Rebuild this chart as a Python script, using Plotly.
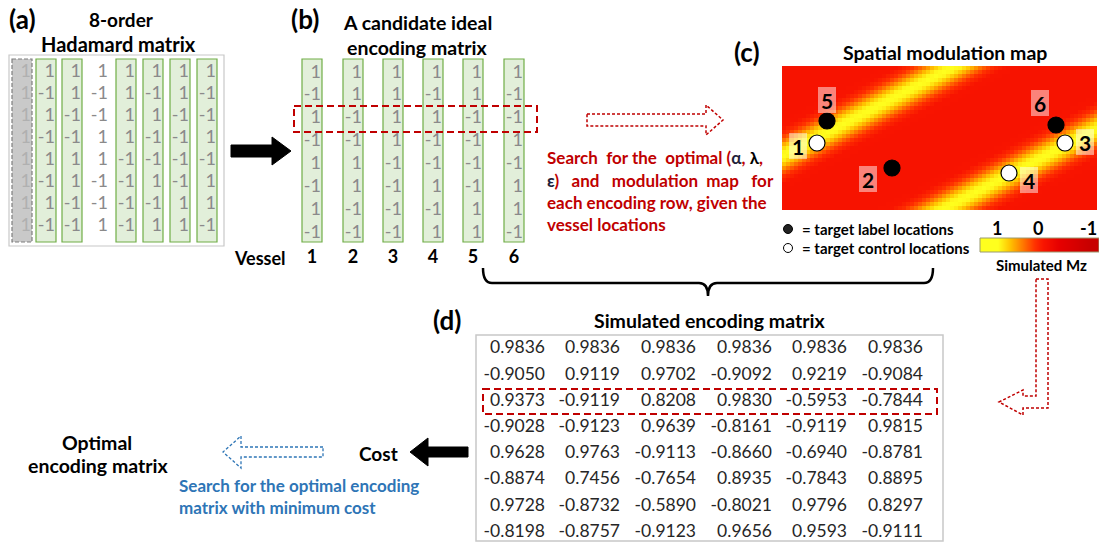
import numpy as np
import plotly.graph_objects as go

# ---------------- data ----------------
HADAMARD = [
    [1, 1, 1, 1, 1, 1, 1, 1],
    [1, -1, 1, -1, 1, -1, 1, -1],
    [1, 1, -1, -1, 1, 1, -1, -1],
    [1, -1, -1, 1, 1, -1, -1, 1],
    [1, 1, 1, 1, -1, -1, -1, -1],
    [1, -1, 1, -1, -1, 1, -1, 1],
    [1, 1, -1, -1, -1, -1, 1, 1],
    [1, -1, -1, 1, -1, 1, 1, -1],
]
SELECTED_COLUMNS = [1, 2, 4, 5, 6, 7]      # Hadamard columns used for the 6 vessels
VESSELS = ["1", "2", "3", "4", "5", "6"]
SELECTED_ROW = 2                           # encoding row highlighted
SIMULATED = [
    [0.9836, 0.9836, 0.9836, 0.9836, 0.9836, 0.9836],
    [-0.9050, 0.9119, 0.9702, -0.9092, 0.9219, -0.9084],
    [0.9373, -0.9119, 0.8208, 0.9830, -0.5953, -0.7844],
    [-0.9028, -0.9123, 0.9639, -0.8161, -0.9119, 0.9815],
    [0.9628, 0.9763, -0.9113, -0.8660, -0.6940, -0.8781],
    [-0.8874, 0.7456, -0.7654, 0.8935, -0.7843, 0.8895],
    [0.9728, -0.8732, -0.5890, -0.8021, 0.9796, 0.8297],
    [-0.8198, -0.8757, -0.9123, 0.9656, 0.9593, -0.9111],
]
# vessel locations in the modulation map (map pixel units, 315 x 146)
VESSEL_MAP_X = [35, 110, 283, 227, 45, 274]
VESSEL_MAP_Y = [77, 102, 77, 107, 55, 59]
# modulation map: stripe slope, stripe intercepts (y at left edge) and Mz profile vs distance
STRIPE_SLOPE = -0.52
STRIPE_INTERCEPTS = [90, 227]
PROFILE_DIST = [0, 4, 9, 14, 19, 25, 40]
PROFILE_MZ = [1.0, 0.95, 0.66, 0.32, 0.06, -0.1, -0.12]
COLORBAR_TICKS = [1, 0, -1]

CANDIDATE = [[row[c] for c in SELECTED_COLUMNS] for row in HADAMARD]

# ---------------- styles ----------------
FONT = "Lato"
GRAY_TXT = "#8a8a8a"
RED = "#c00000"
BLUE = "#2e75b6"
GREEN_FILL = "#e2efda"
GREEN_LINE = "#70ad47"

W, H = 1099, 545
fig = go.Figure()
shapes = []
ann = []


def text(x, y, s, size=17, color="black", xanchor="center", bold=True, yanchor="middle"):
    ann.append(dict(x=x, y=y, xref="x", yref="y", text=(f"<b>{s}</b>" if bold else s),
                    showarrow=False, xanchor=xanchor, yanchor=yanchor,
                    font=dict(family=FONT, size=size, color=color)))


def rect(x0, y0, x1, y1, line_color, fill=None, dash="solid", width=1.2, xref="x", yref="y", layer="below"):
    shapes.append(dict(type="rect", x0=x0, y0=y0, x1=x1, y1=y1, xref=xref, yref=yref,
                       line=dict(color=line_color, width=width, dash=dash),
                       fillcolor=fill if fill else "rgba(0,0,0,0)", layer=layer))


def path(d, line_color, fill=None, dash="solid", width=1.5):
    shapes.append(dict(type="path", path=d, xref="x", yref="y",
                       line=dict(color=line_color, width=width, dash=dash),
                       fillcolor=fill if fill else "rgba(0,0,0,0)", layer="above"))


# ---------------- (a) Hadamard ----------------
text(7, 19, "(a)", size=26, xanchor="left")
text(121, 19, "8-order", size=19)
text(118, 44, "Hadamard matrix", size=20)
rect(9, 55, 224, 246, "#c8c8c8", width=1.2)
a_lefts = [12, 36, 62, 89, 116, 143, 170, 197]
a_rows = [72 + 22.1 * i for i in range(8)]
for j, x0 in enumerate(a_lefts):
    if j == 0:
        rect(x0, 59, x0 + 20, 242, "#7f7f7f", fill="#c9c9c9", dash="4px,2px", width=1.2)
    elif j in SELECTED_COLUMNS:
        rect(x0, 59, x0 + 20, 242, GREEN_LINE, fill=GREEN_FILL, width=1.2)
for j, x0 in enumerate(a_lefts):
    col = [HADAMARD[i][j] for i in range(8)]
    fig.add_trace(go.Scatter(
        x=[x0 + 19] * 8, y=a_rows, mode="text", text=[str(v) for v in col],
        textposition="middle left", cliponaxis=False, hoverinfo="skip",
        textfont=dict(family=FONT, size=18, color="#b0b0b0" if j == 0 else GRAY_TXT),
        showlegend=False))

# arrow (a) -> (b)
path("M 231 145 L 272 145 L 272 137 L 291 151 L 272 165 L 272 157 L 231 157 Z", "black", fill="black", width=1)

# ---------------- (b) candidate ----------------
text(289, 19, "(b)", size=26, xanchor="left")
text(417, 22, "A candidate ideal", size=19.5)
text(417, 47, "encoding matrix", size=19.5)
b_lefts = [302, 343, 383, 423, 463, 504]
b_rows = [73 + 22.9 * i for i in range(8)]
for j, x0 in enumerate(b_lefts):
    rect(x0, 59, x0 + 20, 242, GREEN_LINE, fill=GREEN_FILL, width=1.2)
    col = [CANDIDATE[i][j] for i in range(8)]
    fig.add_trace(go.Scatter(
        x=[x0 + 19] * 8, y=b_rows, mode="text", text=[str(v) for v in col],
        textposition="middle left", cliponaxis=False, hoverinfo="skip",
        textfont=dict(family=FONT, size=18, color=GRAY_TXT), showlegend=False))
rect(294, 106, 537, 132, RED, dash="7px,4px", width=2, layer="above")
text(288, 258, "Vessel", size=18, xanchor="right")
fig.add_trace(go.Scatter(
    x=[x0 + 10 for x0 in b_lefts], y=[258] * 6, mode="text", text=VESSELS,
    textposition="middle center", cliponaxis=False, hoverinfo="skip",
    textfont=dict(family=FONT, size=18, color="black", weight="bold"), showlegend=False))

# bracket
shapes.append(dict(type="path", xref="x", yref="y",
                   path="M 483 268 Q 483 283 492 283 L 699 283 Q 708 283 708 296 Q 708 283 717 283 "
                        "L 924 283 Q 933 283 933 268",
                   line=dict(color="black", width=2.5), layer="above"))

# red dashed hollow arrow and search text
path("M 587 114 L 706 114 L 706 105 L 723 120 L 706 135 L 706 126 L 587 126 Z", RED, dash="3px,2px", width=1.5)
dark = "#1f1f3a"
ann.append(dict(x=545, y=157, xref="x", yref="y", xanchor="left", yanchor="middle", showarrow=False,
                text=f"<b>Search&nbsp; for the&nbsp; optimal (<span style='color:{dark}'>α</span>, "
                     f"<span style='color:black'>λ</span>,</b>",
                font=dict(family=FONT, size=17, color=RED)))
ann.append(dict(x=545, y=180, xref="x", yref="y", xanchor="left", yanchor="middle", showarrow=False,
                text=f"<b><span style='color:{dark}'>ε</span>)&nbsp;&nbsp; and&nbsp;&nbsp; modulation&nbsp; map&nbsp;&nbsp; for</b>",
                font=dict(family=FONT, size=17, color=RED)))
text(545, 202, "each encoding row, given the", size=17, color=RED, xanchor="left")
text(545, 224, "vessel locations", size=17, color=RED, xanchor="left")

# ---------------- (c) modulation map ----------------
text(732, 52, "(c)", size=26, xanchor="left")
text(945, 52, "Spatial modulation map", size=19.5)

MAP_X0, MAP_Y0, MAP_W, MAP_H = 782, 66, 315, 146
CELL = 4
xs = np.arange(CELL / 2, MAP_W, CELL)
ys = np.arange(CELL / 2, MAP_H, CELL)
XX, YY = np.meshgrid(xs, ys)
nrm = np.hypot(STRIPE_SLOPE, 1.0)
u = (YY - STRIPE_SLOPE * XX) / nrm
dist = np.min([np.abs(u - b / nrm) for b in STRIPE_INTERCEPTS], axis=0)
MZ = np.interp(dist, PROFILE_DIST, PROFILE_MZ)

CSCALE = [[0.0, "#c80000"], [0.3, "#e60000"], [0.45, "#f81400"], [0.55, "#ff3200"],
          [0.7, "#ff7a00"], [0.85, "#ffc200"], [1.0, "#ffff1e"]]
fig.add_trace(go.Heatmap(x=xs, y=ys, z=MZ, zmin=-1, zmax=1, colorscale=CSCALE, showscale=False,
                         hoverinfo="skip", xaxis="x2", yaxis="y2"))

is_control = [CANDIDATE[SELECTED_ROW][k] == 1 for k in range(6)]
fig.add_trace(go.Scatter(
    x=VESSEL_MAP_X, y=VESSEL_MAP_Y, mode="markers", xaxis="x2", yaxis="y2", hoverinfo="skip",
    marker=dict(size=16, color=["white" if c else "black" for c in is_control],
                line=dict(color="black", width=1.2)), cliponaxis=False, showlegend=False))
LABEL_OFFSETS = {"1": (-19, 3), "2": (-24, 11), "3": (20, -1), "4": (20, 7), "5": (0, -21), "6": (-16, -22)}
for k, name in enumerate(VESSELS):
    dx, dy = LABEL_OFFSETS[name]
    cx, cy = VESSEL_MAP_X[k] + dx, VESSEL_MAP_Y[k] + dy
    rect(cx - 9, cy - 13, cx + 9, cy + 13, "rgba(0,0,0,0)", fill="rgba(255,255,255,0.48)",
         width=0, xref="x2", yref="y2", layer="above")
    ann.append(dict(x=cx, y=cy, xref="x2", yref="y2", text=f"<b>{name}</b>", showarrow=False,
                    font=dict(family=FONT, size=21, color="black")))

# legend
fig.add_trace(go.Scatter(x=[788, 788], y=[229, 248], mode="markers", hoverinfo="skip", cliponaxis=False,
                         marker=dict(size=9, color=["#222222", "white"], line=dict(color="black", width=1)),
                         showlegend=False))
text(800, 229, "= target label locations", size=15, xanchor="left")
text(800, 248, "= target control locations", size=15, xanchor="left")

# colorbar (1 on the left, -1 on the right)
tick_x = [997, 1038, 1088]
cb_x = np.arange(980.5, 1099, 1.0)
cb_z = np.interp(cb_x, tick_x, COLORBAR_TICKS)
fig.add_trace(go.Heatmap(x=cb_x, y=[241.5, 248.5], z=[cb_z, cb_z], zmin=-1, zmax=1, colorscale=CSCALE,
                         showscale=False, hoverinfo="skip", zsmooth="best"))
rect(980, 238, 1099, 252, "#9a9a70", width=1, layer="above")
for tx, tv in zip(tick_x, COLORBAR_TICKS):
    text(tx, 228, str(tv), size=18)
text(1041, 265, "Simulated Mz", size=15)

# L-shaped red dashed arrow
path("M 1036 279 L 1048 279 L 1048 408 L 1023 408 L 1023 415 L 999 402 L 1023 390 L 1023 396 L 1036 396 Z",
     RED, dash="3px,2px", width=1.5)

# ---------------- (d) simulated matrix ----------------
text(447, 320, "(d)", size=26)
text(709, 320, "Simulated encoding matrix", size=19.5)
rect(476, 335, 943, 541, "#c8c8c8", width=1.5)
d_rights = [545, 620, 696, 772, 847, 923]
d_rows = [349 + 26.2 * i for i in range(8)]
for j, xr in enumerate(d_rights):
    col = [SIMULATED[i][j] for i in range(8)]
    fig.add_trace(go.Scatter(
        x=[xr] * 8, y=d_rows, mode="text", text=[f"{v:.4f}" for v in col],
        textposition="middle left", cliponaxis=False, hoverinfo="skip",
        textfont=dict(family=FONT, size=17.5, color="#262626"), showlegend=False))
rect(483, 389, 937, 414, RED, dash="7px,4px", width=2, layer="above")

# ---------------- bottom left ----------------
text(378, 453, "Cost", size=19)
path("M 468 447 L 428 447 L 428 438 L 410 452 L 428 466 L 428 457 L 468 457 Z", "black", fill="black", width=1)
path("M 323 447 L 241 447 L 241 436 L 223 452 L 241 468 L 241 457 L 323 457 Z", BLUE, dash="3px,2px", width=1.3)
text(97, 442, "Optimal", size=19.5)
text(98, 465, "encoding matrix", size=19.5)
text(177, 485, "Search for the optimal encoding", size=17, color=BLUE, xanchor="left")
text(177, 507, "matrix with minimum cost", size=17, color=BLUE, xanchor="left")

fig.update_layout(
    width=W, height=H, margin=dict(l=0, r=0, t=0, b=0),
    paper_bgcolor="white", plot_bgcolor="white", showlegend=False,
    xaxis=dict(range=[0, W], domain=[0, 1], visible=False, fixedrange=True),
    yaxis=dict(range=[H, 0], domain=[0, 1], visible=False, fixedrange=True),
    xaxis2=dict(range=[0, MAP_W], domain=[MAP_X0 / W, (MAP_X0 + MAP_W) / W], visible=False,
                anchor="y2", fixedrange=True),
    yaxis2=dict(range=[MAP_H, 0], domain=[1 - (MAP_Y0 + MAP_H) / H, 1 - MAP_Y0 / H], visible=False,
                anchor="x2", fixedrange=True),
    shapes=shapes, annotations=ann,
)
fig.write_html("out.html", config={"displayModeBar": False})
